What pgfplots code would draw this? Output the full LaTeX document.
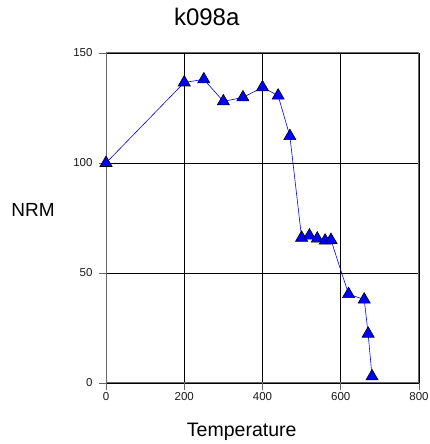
\documentclass[border=0pt]{standalone}
\usepackage{pgfplots}
\pgfplotsset{compat=1.18}
\usepackage{fontspec}
\setmainfont{Liberation Sans}
\begin{document}
\begin{tikzpicture}[x=1pt,y=1pt]
\useasboundingbox (0,0) rectangle (429,444);
\begin{axis}[
  at={(106pt,61pt)}, anchor=south west,
  scale only axis, width=313pt, height=330pt,
  xmin=0, xmax=800, ymin=0, ymax=150,
  xtick={0,200,400,600,800}, ytick={0,50,100,150},
  grid=major,
  major grid style={black, line width=0.8pt},
  axis line style={draw=black!60, line width=1pt},
  tick style={draw=black!60, line width=0.8pt},
  tick align=outside, major tick length=7pt,
  xtick pos=left, ytick pos=left,
  /pgf/number format/assume math mode=true,
  /pgf/number format/1000 sep={},
  tick label style={font=\fontsize{11.5}{11.5}\selectfont, text=black!90},
  yticklabel style={xshift=-3pt},
  xticklabel style={yshift=1pt},
  clip=false,
]
\addplot[blue, line width=0.6pt, mark=triangle*, mark size=7pt,
  mark options={fill=blue, draw=black, line width=0.6pt}]
  coordinates {
  (0,100) (200,136.6) (250,138) (300,128) (350,129.8) (400,134.4)
  (440,130.6) (470,112.2) (500,66) (520,67) (540,65.6) (560,64.7)
  (575,65) (620,40.4) (660,37.9) (670,22.4) (680,3)
  };
\end{axis}
\node[anchor=base, font=\fontsize{24}{24}\selectfont] at (206.7,418) {k098a};
\node[anchor=base, font=\fontsize{19.5}{19.5}\selectfont] at (241.7,7.3) {Temperature};
\node[anchor=center, font=\fontsize{19}{19}\selectfont] at (33,234) {NRM};
\end{tikzpicture}
\end{document}
